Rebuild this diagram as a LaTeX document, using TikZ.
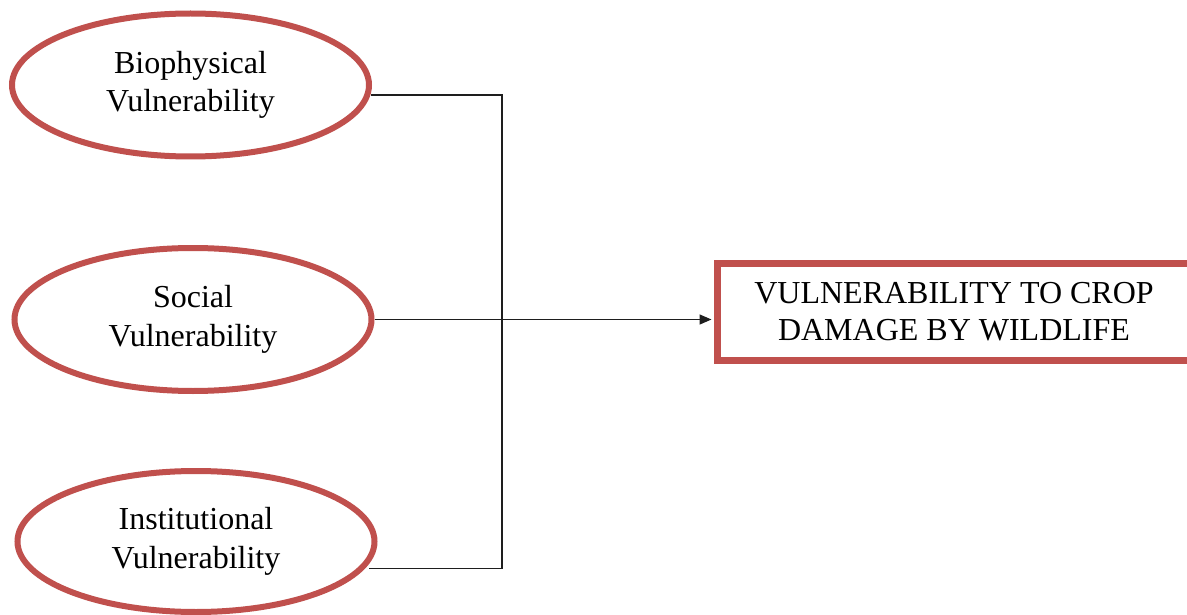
\documentclass[tikz,border=0pt]{standalone}
\usepackage{fontspec}
\setmainfont{Liberation Serif}
\usetikzlibrary{shapes.geometric,arrows.meta,calc}
\definecolor{boxred}{RGB}{192,80,77}
\definecolor{linegray}{RGB}{30,30,30}
\begin{document}
\begin{tikzpicture}[x=1pt,y=-1pt,
  factor/.style={ellipse,draw=boxred,line width=6pt,minimum width=357pt,minimum height=143pt,inner sep=0pt,align=center,font=\fontsize{32}{38.5}\selectfont},
  outcome/.style={rectangle,draw=boxred,line width=7pt,minimum width=474pt,minimum height=97.5pt,inner sep=0pt,align=center,font=\fontsize{32}{37}\selectfont},
  conn/.style={draw=linegray,line width=1.4pt}]
\clip (0,0) rectangle (1187,615);
\fill[white] (0,0) rectangle (1187,615);
\node[factor] (b) at (190.5,85) {Biophysical\\Vulnerability};
\node[factor] (s) at (193,319.5) {Social\\Vulnerability};
\node[factor,minimum height=141pt] (i) at (196,541.5) {Institutional\\Vulnerability};
\node[outcome] (t) at (954,312) {VULNERABILITY TO CROP\\DAMAGE BY WILDLIFE};
\coordinate (b1) at ($(b.east)+(-1,10)$);
\coordinate (i1) at ($(i.east)+(-9,27)$);
\coordinate (j) at (502,95);
\draw[conn] (b1) -| (j) |- (i1);
\draw[conn,-{Triangle[length=12pt,width=10pt]},shorten >=2pt] (s.east) -- (s.east -| t.west);
\end{tikzpicture}
\end{document}
